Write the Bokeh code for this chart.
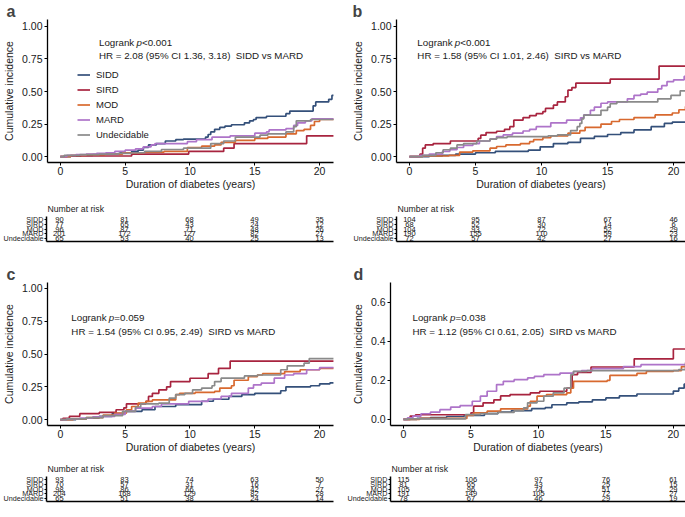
from bokeh.plotting import figure
from bokeh.layouts import column, row
from bokeh.models import FixedTicker, Legend, LegendItem, Range1d, ColumnDataSource
from bokeh.embed import file_html
from bokeh.resources import INLINE
from bokeh.core.properties import value

FONT = "Liberation Sans"
GROUPS = ["SIDD", "SIRD", "MOD", "MARD", "Undecidable"]
COLORS = ["#34507A", "#A8243F", "#D8692F", "#AE74C9", "#8A8A8A"]
RISK_TIMES = [0, 5, 10, 15, 20]
X_TICKS = [0, 5, 10, 15, 20]

# ---------------- panel a ----------------
A_TIMES = {
    "SIDD": [0, 0.8, 1.6, 2.5, 3.4, 4.6, 5.5, 6.0, 6.4, 6.8, 7.4, 8.1, 8.9, 9.5, 11.2, 11.4, 11.6, 11.9, 12.3, 12.7, 13.2, 14.2, 14.6, 14.9, 15.1, 15.9, 17.4, 17.7, 19.5, 19.7, 20.7, 20.95, 21.1],
    "SIRD": [0, 0.5, 5.5, 9.9, 12.6, 13.4, 19.0, 21.1],
    "MOD": [0, 0.8, 2.0, 3.5, 4.8, 6.5, 8.0, 9.8, 10.9, 11.9, 12.4, 13.5, 15.0, 16.0, 17.4, 18.2, 18.8, 19.3, 19.6, 20.0, 21.1],
    "MARD": [0, 0.5, 1.2, 2.0, 2.8, 3.5, 4.2, 5.0, 5.8, 6.4, 7.0, 7.3, 9.8, 10.5, 11.7, 13.1, 15.0, 15.9, 16.1, 17.4, 18.0, 18.3, 18.9, 19.4, 21.1],
    "Undecidable": [0, 0.3, 1.5, 3.0, 4.5, 5.5, 6.5, 7.8, 9.5, 11.6, 12.6, 13.5, 15.4, 16.0, 17.4, 18.0, 18.2, 19.3, 21.1],
}
A_CUMINC = {
    "SIDD": [0, 0.005, 0.01, 0.015, 0.02, 0.03, 0.04, 0.05, 0.07, 0.09, 0.10, 0.12, 0.13, 0.135, 0.15, 0.17, 0.19, 0.21, 0.225, 0.235, 0.245, 0.26, 0.275, 0.285, 0.30, 0.31, 0.33, 0.35, 0.39, 0.42, 0.44, 0.47, 0.47],
    "SIRD": [0, 0.005, 0.02, 0.04, 0.065, 0.10, 0.16, 0.16],
    "MOD": [0, 0.01, 0.015, 0.02, 0.03, 0.035, 0.04, 0.07, 0.08, 0.09, 0.11, 0.125, 0.14, 0.15, 0.175, 0.20, 0.21, 0.24, 0.27, 0.285, 0.29],
    "MARD": [0, 0.01, 0.015, 0.02, 0.025, 0.03, 0.04, 0.05, 0.06, 0.075, 0.09, 0.10, 0.115, 0.13, 0.15, 0.16, 0.18, 0.19, 0.205, 0.215, 0.24, 0.26, 0.275, 0.29, 0.295],
    "Undecidable": [0, 0.01, 0.015, 0.02, 0.025, 0.03, 0.04, 0.055, 0.065, 0.10, 0.12, 0.15, 0.165, 0.175, 0.19, 0.23, 0.275, 0.285, 0.285],
}
A_RISK = {
    "SIDD": [90, 81, 68, 49, 35],
    "SIRD": [77, 65, 43, 24, 12],
    "MOD": [96, 87, 71, 48, 26],
    "MARD": [201, 172, 127, 82, 27],
    "Undecidable": [65, 53, 40, 25, 13],
}
A_P = "<0.001"
A_HR = "HR = 2.08 (95% CI 1.36, 3.18)\u00a0 SIDD vs MARD"

# ---------------- panel b ----------------
B_TIMES = {
    "SIDD": [0, 1.5, 2.5, 3.5, 5.0, 6.5, 9.0, 9.9, 10.9, 12.0, 12.95, 14.0, 15.0, 16.0, 17.0, 18.3, 19.3, 19.9, 21.1],
    "SIRD": [0, 0.8, 1.0, 1.2, 1.8, 3.1, 5.2, 5.4, 5.8, 6.6, 7.2, 7.6, 7.9, 8.6, 9.1, 9.6, 10.1, 10.3, 10.9, 11.2, 11.8, 12.0, 12.3, 12.6, 15.2, 18.9, 21.1],
    "MOD": [0, 1.0, 3.0, 3.8, 4.8, 6.1, 6.6, 7.3, 8.4, 9.1, 9.4, 10.1, 10.7, 12.0, 12.9, 13.3, 14.5, 15.3, 15.9, 17.0, 18.6, 19.9, 20.4, 20.9, 21.1],
    "MARD": [0, 0.8, 1.5, 2.5, 3.05, 3.6, 4.1, 4.8, 5.3, 6.1, 6.6, 7.1, 7.8, 8.6, 9.1, 9.6, 10.7, 11.9, 12.95, 13.2, 13.7, 14.0, 14.5, 15.0, 16.5, 17.0, 17.5, 18.0, 18.8, 19.1, 19.5, 20.0, 20.8, 21.1],
    "Undecidable": [0, 1.0, 2.0, 2.55, 3.1, 3.6, 4.1, 5.1, 6.1, 6.6, 7.4, 10.5, 11.2, 12.2, 12.7, 12.9, 13.05, 13.2, 14.5, 15.0, 15.2, 15.7, 18.8, 19.8, 20.5, 21.1],
}
B_CUMINC = {
    "SIDD": [0, 0.005, 0.01, 0.02, 0.03, 0.04, 0.05, 0.075, 0.10, 0.11, 0.14, 0.155, 0.17, 0.185, 0.205, 0.23, 0.255, 0.265, 0.265],
    "SIRD": [0, 0.02, 0.065, 0.09, 0.10, 0.12, 0.14, 0.165, 0.185, 0.195, 0.21, 0.23, 0.28, 0.30, 0.315, 0.33, 0.345, 0.37, 0.395, 0.42, 0.46, 0.51, 0.53, 0.565, 0.595, 0.695, 0.695],
    "MOD": [0, 0.005, 0.01, 0.035, 0.045, 0.065, 0.078, 0.09, 0.10, 0.115, 0.13, 0.145, 0.16, 0.18, 0.20, 0.225, 0.25, 0.27, 0.285, 0.30, 0.32, 0.335, 0.36, 0.385, 0.39],
    "MARD": [0, 0.01, 0.02, 0.04, 0.053, 0.07, 0.086, 0.10, 0.12, 0.136, 0.154, 0.167, 0.18, 0.197, 0.21, 0.23, 0.26, 0.28, 0.298, 0.32, 0.356, 0.38, 0.41, 0.42, 0.444, 0.47, 0.48, 0.495, 0.52, 0.545, 0.576, 0.59, 0.616, 0.62],
    "Undecidable": [0, 0.01, 0.03, 0.053, 0.065, 0.09, 0.10, 0.12, 0.135, 0.146, 0.154, 0.16, 0.167, 0.20, 0.23, 0.255, 0.29, 0.318, 0.356, 0.38, 0.406, 0.42, 0.444, 0.47, 0.505, 0.505],
}
B_RISK = {
    "SIDD": [104, 95, 87, 67, 46],
    "SIRD": [68, 52, 30, 14, 6],
    "MOD": [104, 93, 72, 52, 29],
    "MARD": [190, 155, 110, 59, 23],
    "Undecidable": [72, 57, 42, 27, 16],
}
B_P = "<0.001"
B_HR = "HR = 1.58 (95% CI 1.01, 2.46)\u00a0 SIRD vs MARD"

# ---------------- panel c ----------------
C_TIMES = {
    "SIDD": [0, 1.2, 2.0, 3.0, 4.0, 5.0, 6.3, 7.3, 8.9, 10.9, 11.8, 13.0, 14.0, 15.0, 17.0, 17.4, 19.3, 20.0, 20.8, 21.1],
    "SIRD": [0, 0.2, 0.7, 1.5, 3.0, 4.3, 4.9, 5.1, 6.6, 6.8, 7.1, 7.6, 8.2, 8.5, 10.0, 11.4, 12.2, 13.1, 21.1],
    "MOD": [0, 1.0, 2.0, 3.3, 4.2, 5.1, 5.5, 6.0, 6.6, 7.1, 8.9, 9.2, 10.4, 11.9, 12.3, 13.2, 13.4, 14.5, 15.2, 15.6, 17.3, 18.5, 20.0, 21.1],
    "MARD": [0, 0.5, 1.5, 2.5, 3.3, 4.2, 5.0, 5.8, 7.1, 7.8, 9.9, 11.4, 12.4, 13.2, 14.5, 14.9, 15.5, 16.5, 17.3, 18.0, 19.0, 20.0, 21.1],
    "Undecidable": [0, 0.5, 2.0, 3.3, 4.8, 5.8, 6.2, 7.6, 8.4, 8.9, 9.6, 10.2, 10.9, 11.7, 11.9, 12.4, 14.2, 15.2, 17.0, 17.5, 18.8, 19.2, 21.1],
}
C_CUMINC = {
    "SIDD": [0, 0.005, 0.013, 0.025, 0.045, 0.063, 0.075, 0.10, 0.114, 0.14, 0.155, 0.177, 0.19, 0.20, 0.22, 0.25, 0.258, 0.273, 0.28, 0.28],
    "SIRD": [0, 0.01, 0.025, 0.045, 0.055, 0.075, 0.09, 0.12, 0.139, 0.177, 0.20, 0.227, 0.25, 0.29, 0.315, 0.35, 0.39, 0.445, 0.445],
    "MOD": [0, 0.005, 0.015, 0.035, 0.05, 0.075, 0.10, 0.126, 0.139, 0.15, 0.19, 0.20, 0.207, 0.215, 0.24, 0.258, 0.30, 0.328, 0.34, 0.35, 0.366, 0.38, 0.39, 0.39],
    "MARD": [0, 0.005, 0.012, 0.02, 0.025, 0.04, 0.063, 0.088, 0.10, 0.12, 0.139, 0.157, 0.177, 0.20, 0.24, 0.265, 0.278, 0.316, 0.34, 0.35, 0.38, 0.396, 0.40],
    "Undecidable": [0, 0.005, 0.015, 0.03, 0.063, 0.096, 0.12, 0.126, 0.164, 0.19, 0.20, 0.227, 0.24, 0.258, 0.29, 0.316, 0.333, 0.34, 0.38, 0.41, 0.43, 0.465, 0.465],
}
C_RISK = {
    "SIDD": [93, 83, 74, 63, 50],
    "SIRD": [70, 57, 31, 16, 7],
    "MOD": [98, 86, 66, 42, 27],
    "MARD": [204, 168, 129, 82, 28],
    "Undecidable": [65, 51, 38, 24, 14],
}
C_P = "=0.059"
C_HR = "HR = 1.54 (95% CI 0.95, 2.49)\u00a0 SIRD vs MARD"

# ---------------- panel d ----------------
D_TIMES = {
    "SIDD": [0, 1.0, 2.0, 3.2, 4.5, 6.0, 7.0, 8.0, 9.5, 10.5, 11.0, 12.1, 13.0, 14.0, 15.0, 16.0, 17.3, 20.0, 20.4, 20.8, 21.1],
    "SIRD": [0, 0.5, 0.9, 5.0, 5.2, 5.9, 6.7, 7.2, 7.9, 9.4, 10.1, 12.1, 12.5, 12.9, 13.9, 17.1, 20.0, 21.1],
    "MOD": [0, 1.2, 4.7, 5.2, 6.2, 7.2, 9.2, 9.4, 9.9, 10.6, 12.1, 12.4, 12.6, 15.1, 15.3, 17.3, 18.0, 20.0, 20.6, 21.1],
    "MARD": [0, 0.3, 0.7, 1.3, 2.0, 2.7, 3.5, 4.2, 5.1, 5.7, 6.2, 6.9, 7.4, 8.2, 9.2, 9.7, 10.4, 11.6, 12.6, 13.2, 14.0, 16.3, 17.6, 21.1],
    "Undecidable": [0, 0.3, 4.6, 5.7, 7.0, 8.2, 8.9, 9.2, 9.9, 10.4, 11.1, 11.9, 12.4, 12.6, 13.6, 20.4, 20.9, 21.1],
}
D_CUMINC = {
    "SIDD": [0, 0.005, 0.01, 0.015, 0.02, 0.03, 0.038, 0.045, 0.055, 0.06, 0.075, 0.085, 0.09, 0.10, 0.11, 0.12, 0.13, 0.145, 0.16, 0.18, 0.18],
    "SIRD": [0, 0.017, 0.024, 0.034, 0.068, 0.085, 0.10, 0.12, 0.127, 0.136, 0.144, 0.16, 0.229, 0.24, 0.268, 0.31, 0.36, 0.36],
    "MOD": [0, 0.005, 0.02, 0.034, 0.042, 0.054, 0.068, 0.093, 0.119, 0.127, 0.136, 0.16, 0.195, 0.20, 0.225, 0.235, 0.245, 0.25, 0.27, 0.27],
    "MARD": [0, 0.008, 0.017, 0.029, 0.037, 0.05, 0.063, 0.071, 0.093, 0.119, 0.144, 0.178, 0.195, 0.203, 0.212, 0.22, 0.229, 0.237, 0.245, 0.25, 0.26, 0.27, 0.28, 0.28],
    "Undecidable": [0, 0.003, 0.025, 0.03, 0.036, 0.045, 0.059, 0.085, 0.093, 0.119, 0.136, 0.16, 0.229, 0.246, 0.25, 0.255, 0.29, 0.29],
}
D_RISK = {
    "SIDD": [115, 106, 97, 76, 61],
    "SIRD": [81, 65, 43, 25, 15],
    "MOD": [105, 96, 74, 51, 29],
    "MARD": [191, 149, 105, 72, 27],
    "Undecidable": [78, 67, 46, 29, 19],
}
D_P = "=0.038"
D_HR = "HR = 1.12 (95% CI 0.61, 2.05)\u00a0 SIRD vs MARD"

Y_TICKS_1 = [0, 0.25, 0.5, 0.75, 1.0]
Y_LABELS_1 = ["0.00", "0.25", "0.50", "0.75", "1.00"]
Y_TICKS_D = [0, 0.2, 0.4, 0.6]
Y_LABELS_D = ["0.0", "0.2", "0.4", "0.6"]


def style_axis(ax, fs="10.5px"):
    ax.axis_line_color = "black"
    ax.axis_line_width = 1.3
    ax.major_tick_line_color = "black"
    ax.major_tick_line_width = 1
    ax.major_tick_out = 3
    ax.major_tick_in = 0
    ax.minor_tick_line_color = None
    ax.major_label_text_font = FONT
    ax.major_label_text_font_size = fs
    ax.major_label_text_color = "#1a1a1a"
    ax.axis_label_text_font = FONT
    ax.axis_label_text_font_size = "10.5px"
    ax.axis_label_text_font_style = "normal"
    ax.axis_label_text_color = "#1a1a1a"


def km_panel(letter, times, cuminc, width, height, left, right, top, bottom,
             xr, yr, yticks, ylabels, ann_x, ann_y1, ann_y2, ptxt, hrtxt,
             letter_offset, legend=False):
    p = figure(width=width, height=height, x_range=Range1d(*xr), y_range=Range1d(*yr),
               output_backend="svg", toolbar_location=None,
               min_border_left=left, min_border_right=right,
               min_border_top=top, min_border_bottom=bottom)
    p.outline_line_color = None
    p.grid.visible = False
    p.background_fill_color = "white"
    p.xaxis.ticker = FixedTicker(ticks=X_TICKS)
    p.yaxis.ticker = FixedTicker(ticks=yticks)
    p.yaxis.major_label_overrides = {t: l for t, l in zip(yticks, ylabels)}
    p.xaxis.axis_label = "Duration of diabetes (years)"
    p.yaxis.axis_label = "Cumulative incidence"
    style_axis(p.xaxis[0])
    style_axis(p.yaxis[0])
    p.xaxis.major_label_standoff = 1
    p.xaxis.axis_label_standoff = 0
    p.yaxis.major_label_standoff = 2
    p.yaxis.axis_label_standoff = 4

    p.title.text = letter
    p.title.text_font = FONT
    p.title.text_font_size = "16px"
    p.title.text_font_style = "bold"
    p.title.align = "left"
    p.title.offset = letter_offset
    p.title.standoff = 0

    items = []
    for g, c in zip(GROUPS, COLORS):
        src = ColumnDataSource(dict(t=times[g], y=cuminc[g]))
        r = p.step(x="t", y="y", source=src, mode="after", line_color=c, line_width=1.7)
        items.append(LegendItem(label=g, renderers=[r]))

    tf = value(FONT)
    fs = "9.75px"
    p.text(x=[ann_x], y=[ann_y1], text=["Logrank"], text_font=tf, text_font_size=fs,
           text_baseline="middle", text_align="left", text_color="#1a1a1a")
    p.text(x=[ann_x], y=[ann_y1], text=["p"], text_font=tf, text_font_size=fs,
           text_font_style="italic", x_offset=37.5, text_baseline="middle", text_align="left",
           text_color="#1a1a1a")
    p.text(x=[ann_x], y=[ann_y1], text=[ptxt], text_font=tf, text_font_size=fs,
           x_offset=43, text_baseline="middle", text_align="left", text_color="#1a1a1a")
    p.text(x=[ann_x], y=[ann_y2], text=[hrtxt], text_font=tf, text_font_size=fs,
           text_baseline="middle", text_align="left", text_color="#1a1a1a")

    if legend:
        lg = Legend(items=items, location=(30, 20), orientation="vertical",
                    padding=0, margin=0, spacing=0,
                    label_text_font=FONT, label_text_font_size="9.5px",
                    label_text_color="#1a1a1a",
                    glyph_width=13, glyph_height=15, label_height=15,
                    label_standoff=6, background_fill_alpha=0, border_line_alpha=0)
        p.add_layout(lg)
    return p


def risk_panel(risk, width, height, left, right, top, bottom, xr):
    t = figure(width=width, height=height, x_range=Range1d(*xr), y_range=Range1d(0.37, 5.63),
               output_backend="svg", toolbar_location=None,
               min_border_left=left, min_border_right=right,
               min_border_top=top, min_border_bottom=bottom)
    t.outline_line_color = None
    t.grid.visible = False
    t.title.text = "Number at risk"
    t.title.text_font = FONT
    t.title.text_font_size = "8.7px"
    t.title.text_font_style = "normal"
    t.title.text_color = "#1a1a1a"
    t.title.align = "left"
    t.title.offset = 1
    t.title.standoff = 6
    rows = list(range(len(GROUPS), 0, -1))
    t.yaxis.ticker = FixedTicker(ticks=rows)
    t.yaxis.major_label_overrides = {r: g for r, g in zip(rows, GROUPS)}
    t.xaxis.ticker = FixedTicker(ticks=[])
    for ax in (t.xaxis[0], t.yaxis[0]):
        style_axis(ax, "7.2px")
        ax.axis_line_width = 1.5
    t.yaxis.major_tick_out = 2
    t.yaxis.major_label_standoff = 1
    xs, ys, txt = [], [], []
    for g, r in zip(GROUPS, rows):
        for tm, n in zip(RISK_TIMES, risk[g]):
            xs.append(tm)
            ys.append(r)
            txt.append(str(n))
    t.text(x=xs, y=ys, text=txt, text_font=value(FONT), text_font_size="7.5px",
           text_align="center", text_baseline="middle", text_color="#111111")
    return t


XR_L = (-0.99, 21.07)
XR_B = (-0.98, 20.90)
XR_D = (-0.96, 20.90)
YR_1 = (-0.045, 1.053)
YR_C = (-0.045, 1.045)
YR_D = (-0.031, 0.70)

pa = km_panel("a", A_TIMES, A_CUMINC, 340, 192, 44, 7, 18, 29, XR_L, YR_1, Y_TICKS_1, Y_LABELS_1,
              2.98, 0.873, 0.778, A_P, A_HR, -41, legend=True)
pb = km_panel("b", B_TIMES, B_CUMINC, 345, 192, 56, 0, 18, 29, XR_B, YR_1, Y_TICKS_1, Y_LABELS_1,
              0.6, 0.873, 0.778, B_P, B_HR, -44)
pc = km_panel("c", C_TIMES, C_CUMINC, 340, 193, 44, 7, 20, 29, XR_L, YR_C, Y_TICKS_1, Y_LABELS_1,
              0.85, 0.778, 0.669, C_P, C_HR, -41)
pd = km_panel("d", D_TIMES, D_CUMINC, 345, 193, 50, 0, 20, 29, XR_D, YR_D, Y_TICKS_D, Y_LABELS_D,
              0.67, 0.522, 0.449, D_P, D_HR, -37)

ta = risk_panel(A_RISK, 340, 70, 44, 7, 24, 21, XR_L)
tb = risk_panel(B_RISK, 345, 70, 56, 0, 24, 21, XR_B)
tc = risk_panel(C_RISK, 340, 62, 44, 7, 21, 16, XR_L)
td = risk_panel(D_RISK, 345, 62, 50, 0, 21, 16, XR_D)

layout = column(row(pa, pb), row(ta, tb), row(pc, pd), row(tc, td))

with open("out.html", "w") as f:
    f.write(file_html(layout, INLINE))
